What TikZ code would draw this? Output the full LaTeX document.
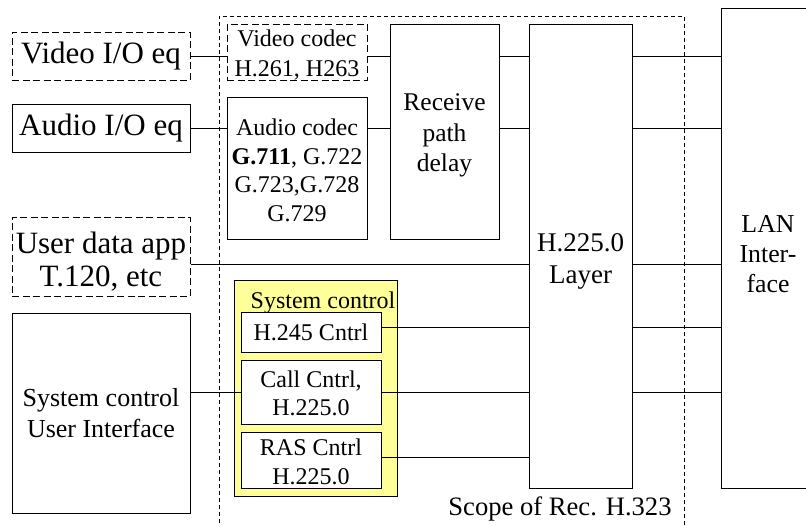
\documentclass[tikz,border=0pt]{standalone}
\usepackage{fontspec}
\setmainfont{Liberation Serif}
\begin{document}
\begin{tikzpicture}[x=1pt,y=-1pt,
  box/.style={draw=black,line width=1pt,inner sep=0pt,align=center,anchor=center},
  dbox/.style={box,dash pattern=on 7pt off 3.5pt},
  txt/.style={inner sep=0pt,align=center},
  conn/.style={draw=black,line width=1pt},
  big/.style={font=\fontsize{31}{33}\selectfont},
  med/.style={font=\fontsize{24}{28.5}\selectfont},
  mid/.style={font=\fontsize{26}{31.5}\selectfont}]
\clip (0,0) rectangle (806,525);
\fill[white] (0,0) rectangle (806,525);
% scope of H.323
\draw[line width=1pt,dash pattern=on 4pt off 3pt] (219,530) -- (219,16) -- (684,16) -- (684,530);
% left side boxes
\node[dbox,big,minimum width=178pt,minimum height=48pt] (vio) at (101,56) {Video I/O eq};
\node[box,big,minimum width=178pt,minimum height=48pt] (aio) at (101,128) {Audio I/O eq};
\node[dbox,minimum width=178pt,minimum height=79pt] (uda) at (101,256.5) {};
\node[txt,big] (udat) at (101,262) {User data app\\T.120, etc};
\node[box,mid,minimum width=178pt,minimum height=200pt] (sui) at (101,413) {System control\\User Interface};
% codecs
\node[dbox,minimum width=140pt,minimum height=56pt] (vcodec) at (297,52) {};
\node[txt,font=\fontsize{24}{30}\selectfont] (vcodect) at (297,55) {Video codec\\H.261, H263};
\node[box,med,minimum width=140pt,minimum height=142pt] (acodec) at (297,168) {};
\node[txt,med] (acodect) at (297,170.5) {Audio codec\\\textbf{G.711}, G.722\\G.723,G.728\\G.729};
\node[box,minimum width=109pt,minimum height=215pt] (rpd) at (444.5,131.5) {};
\node[txt,font=\fontsize{25.5}{30.5}\selectfont] (rpdt) at (444.5,135.5) {Receive\\path\\delay};
\node[box,minimum width=103pt,minimum height=464pt] (h225) at (580.5,256) {};
\node[txt,font=\fontsize{27}{32}\selectfont] (h225t) at (580.5,261) {H.225.0\\Layer};
\node[box,minimum width=94pt,minimum height=480pt] (lan) at (768,248) {};
\node[txt,font=\fontsize{25.8}{30}\selectfont] (lant) at (768,254) {LAN\\Inter-\\face};
% system control group
\node[box,fill={rgb,255:red,255;green,255;blue,153},minimum width=163pt,minimum height=216pt] (sysctl) at (315.5,388) {};
\node[txt,med] (sysctllbl) at (323,302.5) {System control};
\node[box,med,fill=white,minimum width=140pt,minimum height=40pt] (h245) at (311,332) {H.245 Cntrl};
\node[box,med,fill=white,minimum width=140pt,minimum height=64pt] (call) at (311,392) {};
\node[txt,med] (callt) at (311,393.5) {Call Cntrl,\\H.225.0};
\node[box,med,fill=white,minimum width=140pt,minimum height=56pt] (ras) at (311,460) {};
\node[txt,med] (rast) at (311,462) {RAS Cntrl\\H.225.0};
\node[txt,font=\fontsize{26.6}{30}\selectfont] (scope) at (560,509) {Scope of Rec. H.323};
% levels
\coordinate (yv) at (0,56);
\coordinate (ya) at (0,128);
\coordinate (yu) at (0,264);
\coordinate (yh) at (0,327);
\coordinate (yc) at (0,392);
\coordinate (yr) at (0,457);
% connectors
\draw[conn] (vio.east |- yv) -- (vcodec.west |- yv);
\draw[conn] (aio.east |- ya) -- (acodec.west |- ya);
\draw[conn] (vcodec.east |- yv) -- (rpd.west |- yv);
\draw[conn] (acodec.east |- ya) -- (rpd.west |- ya);
\draw[conn] (rpd.east |- yv) -- (h225.west |- yv);
\draw[conn] (rpd.east |- ya) -- (h225.west |- ya);
\draw[conn] (uda.east |- yu) -- (h225.west |- yu);
\draw[conn] (h245.east |- yh) -- (h225.west |- yh);
\draw[conn] (sui.east |- yc) -- (call.west |- yc);
\draw[conn] (call.east |- yc) -- (h225.west |- yc);
\draw[conn] (ras.east |- yr) -- (h225.west |- yr);
\draw[conn] (h225.east |- yv) -- (lan.west |- yv);
\draw[conn] (h225.east |- ya) -- (lan.west |- ya);
\draw[conn] (h225.east |- yu) -- (lan.west |- yu);
\draw[conn] (h225.east |- yh) -- (lan.west |- yh);
\draw[conn] (h225.east |- yc) -- (lan.west |- yc);
\end{tikzpicture}
\end{document}
